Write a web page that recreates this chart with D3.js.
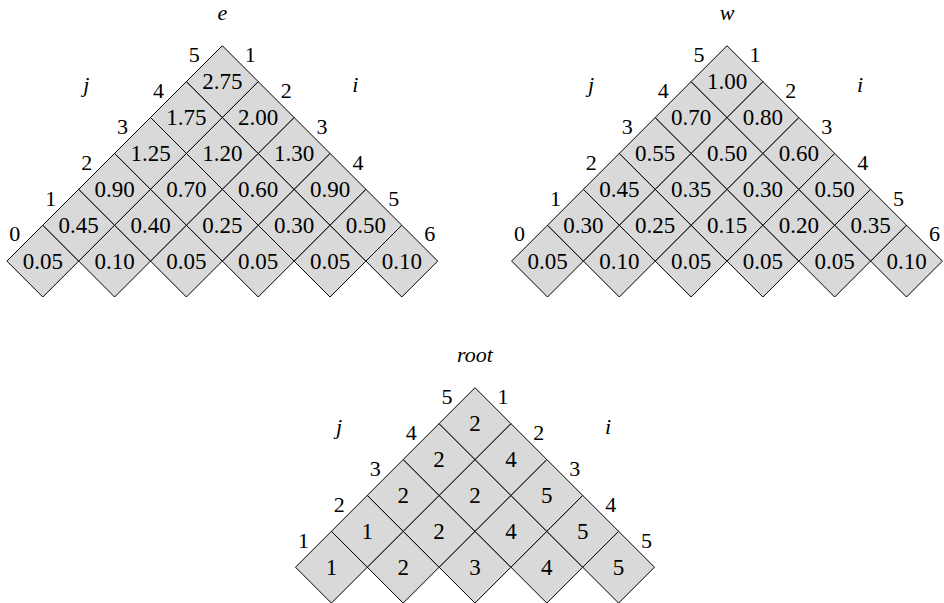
<!DOCTYPE html>
<html>
<head>
<meta charset="utf-8">
<script src="https://cdn.jsdelivr.net/npm/d3@7"></script>
<style>
  html, body { margin: 0; padding: 0; background: #fff; }
  svg { display: block; }
</style>
</head>
<body>
<div id="chart"></div>
<script>
// Rows listed from bottom to top, cells left to right.
const eRows = [
  [0.05, 0.10, 0.05, 0.05, 0.05, 0.10],
  [0.45, 0.40, 0.25, 0.30, 0.50],
  [0.90, 0.70, 0.60, 0.90],
  [1.25, 1.20, 1.30],
  [1.75, 2.00],
  [2.75]
];
const wRows = [
  [0.05, 0.10, 0.05, 0.05, 0.05, 0.10],
  [0.30, 0.25, 0.15, 0.20, 0.35],
  [0.45, 0.35, 0.30, 0.50],
  [0.55, 0.50, 0.60],
  [0.70, 0.80],
  [1.00]
];
const rootRows = [
  [1, 2, 3, 4, 5],
  [1, 2, 4, 5],
  [2, 2, 5],
  [2, 4],
  [2]
];
const eJLabels = ["0", "1", "2", "3", "4", "5"];
const eILabels = ["1", "2", "3", "4", "5", "6"];
const wJLabels = ["0", "1", "2", "3", "4", "5"];
const wILabels = ["1", "2", "3", "4", "5", "6"];
const rootJLabels = ["1", "2", "3", "4", "5"];
const rootILabels = ["1", "2", "3", "4", "5"];
const titles = ["e", "w", "root"];

const FONT = "Liberation Serif";
const W = 944, H = 603;
const svg = d3.select("#chart").append("svg").attr("width", W).attr("height", H);

// one diagonal step = 36 px
const u = d3.scaleLinear().domain([0, 1]).range([0, 35.9]);

function panel(rows, jLabels, iLabels, title, ax, ay, fmt) {
  const n = rows.length;
  const cells = [];
  rows.forEach((row, r) => {
    row.forEach((v, k) => {
      const p = k, q = (n - 1 - r) - k;
      cells.push({ v, r, k, p, q,
        cx: ax + u(p - q),
        cy: ay + u(1) + u(p + q) });
    });
  });
  const h = u(1);
  cells.forEach(d => {
    svg.append("path")
      .attr("d", `M${d.cx},${d.cy - h}L${d.cx + h},${d.cy}L${d.cx},${d.cy + h}L${d.cx - h},${d.cy}Z`)
      .attr("fill", "#d9d9d9")
      .attr("stroke", "#000")
      .attr("stroke-width", 1);
  });
  const txt = (x, y, t, size, italic) => svg.append("text")
    .attr("x", x).attr("y", y)
    .attr("text-anchor", "middle")
    .attr("font-family", FONT)
    .attr("font-size", size)
    .attr("font-style", italic ? "italic" : "normal")
    .style("font-family", FONT)
    .text(t);

  cells.forEach(d => txt(d.cx, d.cy + 7.6, fmt(d.v), 23, false));
  cells.filter(d => d.k === 0).forEach(d =>
    txt(d.cx - h / 2 - 10, d.cy - h / 2 - 9 + 7.3, jLabels[d.r], 22, false));
  cells.filter(d => d.q === 0).forEach(d =>
    txt(d.cx + h / 2 + 10, d.cy - h / 2 - 9 + 7.3, iLabels[d.p], 22, false));
  txt(ax, ay - 26, title, 22, true);
  txt(ax - 136, ay + 46, "j", 22, true);
  txt(ax + 133, ay + 46, "i", 22, true);
}

const f2 = d3.format(".2f");
panel(eRows, eJLabels, eILabels, titles[0], 222.3, 45.7, f2);
panel(wRows, wJLabels, wILabels, titles[1], 727, 45.7, f2);
panel(rootRows, rootJLabels, rootILabels, titles[2], 475, 387.7, d => String(d));
</script>
</body>
</html>
